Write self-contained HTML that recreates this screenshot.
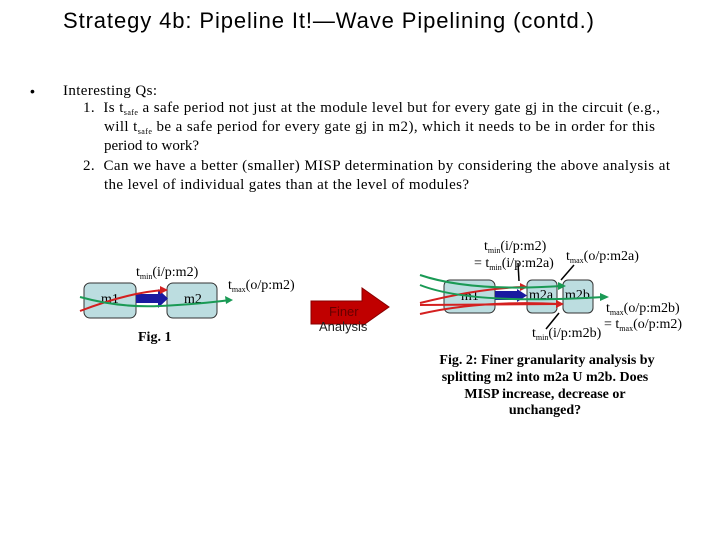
<html><body style="margin:0;background:#fff">
<svg width="720" height="540" xmlns="http://www.w3.org/2000/svg" style="display:block">
<style>
.s{font-family:"Liberation Sans",sans-serif}
.t{font-family:"Liberation Serif",serif;font-size:14px}
.b{font-family:"Liberation Serif",serif;font-size:15px}
.u{font-size:8px}
</style>
<text x="63" y="28" class="s" font-size="22" textLength="531" lengthAdjust="spacing">Strategy 4b: Pipeline It!—Wave Pipelining (contd.)</text>
<text x="30" y="96" class="s" font-size="14">•</text>
<text x="63" y="95" class="b" textLength="94" lengthAdjust="spacing">Interesting Qs:</text>
<text x="83" y="112" class="b" textLength="577" lengthAdjust="spacing">1.&#160; Is t<tspan class="u" dy="3">safe</tspan><tspan dy="-3"> a safe period not just at the module level but for every gate gj in the circuit (e.g.,</tspan></text>
<text x="104" y="131" class="b" textLength="551" lengthAdjust="spacing">will t<tspan class="u" dy="3">safe</tspan><tspan dy="-3"> be a safe period for every gate gj in m2), which it needs to be in order for this</tspan></text>
<text x="104" y="150" class="b">period to work?</text>
<text x="83" y="170" class="b" textLength="587" lengthAdjust="spacing">2.&#160; Can we have a better (smaller) MISP determination by considering the above analysis at</text>
<text x="104" y="189" class="b" textLength="365" lengthAdjust="spacing">the level of individual gates than at the level of modules?</text>

<!-- Fig 1 -->
<rect x="84" y="283" width="52" height="35" rx="6" fill="#bcdde0" stroke="#333"/>
<rect x="167" y="283" width="50" height="35" rx="6" fill="#bcdde0" stroke="#333"/>
<text x="101" y="303" class="t">m1</text>
<text x="184" y="303" class="t">m2</text>
<rect x="136" y="294" width="22" height="9" fill="#1a1aa0"/>
<polygon points="158,289 168,298.5 158,308" fill="#1a1aa0"/>
<path d="M80,311 Q130,292 165,290" stroke="#d42020" stroke-width="2" fill="none"/>
<polygon points="168,290 160,286 160,294" fill="#d42020"/>
<path d="M80,297 Q120,308 160,306 T230,300" stroke="#1a9a55" stroke-width="2" fill="none"/>
<polygon points="233,300 225,296 226,304" fill="#1a9a55"/>
<text x="136" y="276" class="t">t<tspan class="u" dy="3">min</tspan><tspan dy="-3">(i/p:m2)</tspan></text>
<text x="228" y="289" class="t">t<tspan class="u" dy="3">max</tspan><tspan dy="-3">(o/p:m2)</tspan></text>
<text x="138" y="341" class="t" font-weight="bold">Fig. 1</text>

<!-- arrow -->
<polygon points="311,301 362,301 362,288 389,307 362,326 362,324 311,324" fill="#c00000" stroke="#800" stroke-width="1"/>
<text x="329" y="316" class="s" font-size="13" fill="#600">Finer</text>
<text x="319" y="331" class="s" font-size="13" fill="#222">Analysis</text>

<!-- Fig 2 -->
<rect x="444" y="280" width="51" height="33" rx="6" fill="#bcdde0" stroke="#333"/>
<rect x="527" y="280" width="30" height="33" rx="5" fill="#bcdde0" stroke="#333"/>
<rect x="563" y="280" width="30" height="33" rx="5" fill="#bcdde0" stroke="#333"/>
<text x="461" y="300" class="t">m1</text>
<text x="529" y="299" class="t">m2a</text>
<text x="565" y="299" class="t">m2b</text>
<rect x="495" y="291" width="24" height="9" fill="#1a1aa0"/>
<polygon points="517,289 527,295.5 517,302" fill="#1a1aa0"/>
<path d="M420,303 Q480,288 524,287" stroke="#d42020" stroke-width="2" fill="none"/>
<polygon points="528,287 520,283 520,291" fill="#d42020"/>
<path d="M420,314 Q480,300 560,304" stroke="#d42020" stroke-width="2" fill="none"/>
<path d="M420,305 L560,304" stroke="#d42020" stroke-width="2" fill="none"/>
<polygon points="564,304 556,300 556,308" fill="#d42020"/>
<path d="M420,275 Q470,292 562,286" stroke="#1a9a55" stroke-width="2" fill="none"/>
<polygon points="566,286 558,282 558,290" fill="#1a9a55"/>
<path d="M420,285 Q470,305 604,297" stroke="#1a9a55" stroke-width="2" fill="none"/>
<polygon points="609,297 600,293 600,301" fill="#1a9a55"/>
<line x1="518" y1="263" x2="519" y2="281" stroke="#000" stroke-width="1.5"/>
<line x1="574" y1="265" x2="561" y2="280" stroke="#000" stroke-width="1.5"/>
<line x1="546" y1="329" x2="559" y2="313" stroke="#000" stroke-width="1.5"/>
<text x="484" y="250" class="t">t<tspan class="u" dy="3">min</tspan><tspan dy="-3">(i/p:m2)</tspan></text>
<text x="474" y="267" class="t">= t<tspan class="u" dy="3">min</tspan><tspan dy="-3">(i/p:m2a)</tspan></text>
<text x="566" y="260" class="t">t<tspan class="u" dy="3">max</tspan><tspan dy="-3">(o/p:m2a)</tspan></text>
<text x="606" y="312" class="t">t<tspan class="u" dy="3">max</tspan><tspan dy="-3">(o/p:m2b)</tspan></text>
<text x="604" y="328" class="t">= t<tspan class="u" dy="3">max</tspan><tspan dy="-3">(o/p:m2)</tspan></text>
<text x="532" y="337" class="t">t<tspan class="u" dy="3">min</tspan><tspan dy="-3">(i/p:m2b)</tspan></text>
<g class="t" font-weight="bold" font-size="12" text-anchor="middle">
<text x="547" y="364">Fig. 2: Finer granularity analysis by</text>
<text x="545" y="381">splitting m2 into m2a U m2b. Does</text>
<text x="545" y="398">MISP increase, decrease or</text>
<text x="545" y="414">unchanged?</text>
</g>
</svg>
</body></html>
